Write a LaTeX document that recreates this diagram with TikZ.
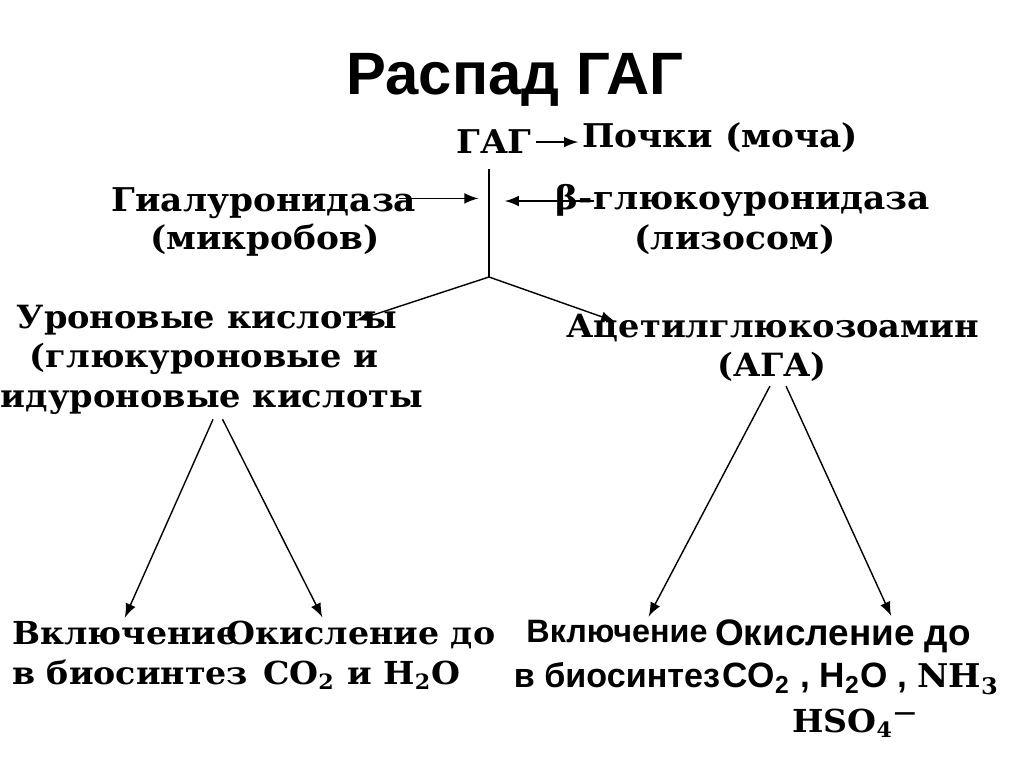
\documentclass[tikz,border=0pt]{standalone}
\usepackage{fontspec}
\setmainfont{DejaVu Serif}[FakeStretch=1.05]
\newfontfamily\arialfont{Liberation Sans}
\tikzset{>=latex}

\begin{document}
\begin{tikzpicture}[x=0.01cm, y=-0.01cm,
    lbl/.style={anchor=base, inner sep=1pt, font=\fontsize{9.3}{11}\selectfont\bfseries},
    lowlbl/.style={anchor=base, inner sep=1pt, font=\fontsize{9}{11}\selectfont\bfseries},
    sanslbl/.style={anchor=base, inner sep=1pt, font=\fontsize{9.2}{11}\selectfont\arialfont\bfseries}]
  \useasboundingbox (0,0) rectangle (1024,768);

  % title
  \node (title) at (515,95) [anchor=base, font=\fontsize{17}{20}\selectfont\arialfont\bfseries] {Распад ГАГ};

  % top of the scheme
  \node (gag) at (494,154) [lbl] {ГАГ};
  \node (kidney) at (720,148) [lbl] {Почки (моча)};
  \node (hyal) at (264,212) [lbl] {Гиалуронидаза};
  \node (hyal2) at (265,250) [lbl] {(микробов)};
  \node (beta) at (743,210) [lbl] {β-глюкоуронидаза};
  \node (beta2) at (735,250) [lbl] {(лизосом)};
  \coordinate (fork) at (489,277);
  \coordinate (hyalarrow) at ([xshift=-6pt,yshift=1.5pt]hyal.east);
  \coordinate (betaarrow) at ([xshift=12pt]beta.west);

  \draw[->] (gag.east) -- (gag.east -| kidney.west);
  \draw[shorten <=3pt] (gag.south -| fork) -- (fork);
  \draw[->, shorten >=3pt] (hyalarrow) -- (hyalarrow -| fork);
  \draw[->, shorten >=4.5pt] (betaarrow) -- (betaarrow -| fork);

  % products
  \node (uron) at (207,329) [lowlbl, font=\fontsize{9.1}{11}\selectfont\bfseries] {Уроновые кислоты};
  \node (uron2) at (204,368) [lowlbl, font=\fontsize{9.1}{11}\selectfont\bfseries] {(глюкуроновые и};
  \node (uron3) at (212,408) [lowlbl, font=\fontsize{9.1}{11}\selectfont\bfseries] {идуроновые кислоты};
  \node (aga) at (773,338) [lowlbl, font=\fontsize{9.1}{11}\selectfont\bfseries] {Ацетилглюкозоамин};
  \node (aga2) at (772,377) [lowlbl, font=\fontsize{9.1}{11}\selectfont\bfseries] {(АГА)};

  \draw[->] (fork) -- ([xshift=-13pt]uron.east);
  \draw[->] (fork) -- ([xshift=15pt,yshift=2pt]aga.west);

  % fate of uronic acids
  \node (incl) at (8,645) [lowlbl, anchor=base west] {Включение};
  \node (incl2) at (8,685) [lowlbl, anchor=base west] {в биосинтез};
  \node (oxid) at (361,645) [lowlbl] {Окисление до};
  \node (oxid2) at (362,685) [lowlbl] {CO\textsubscript{2} и H\textsubscript{2}O};

  \draw[->] ([xshift=0.3pt]uron3.south) -- ([xshift=0pt]incl.north);
  \draw[->] ([xshift=3pt]uron3.south) -- ([xshift=-11pt]oxid.north);

  % fate of AGA
  \node (inclb) at (617,643) [sanslbl] {Включение};
  \node (inclb2) at (617,688) [sanslbl, font=\fontsize{9.7}{11}\selectfont\arialfont\bfseries] {в биосинтез};
  \node (oxidb) at (843,646) [sanslbl, font=\fontsize{10.5}{12}\selectfont\arialfont\bfseries] {Окисление до};
  \node (oxidb2) at (861,688) [sanslbl, font=\fontsize{10}{12}\selectfont\arialfont\bfseries] {CO\textsubscript{2} , H\textsubscript{2}O , {\rmfamily\fontsize{9.3}{12}\selectfont NH\textsubscript{3}}};
  \node (oxidb3) at (855,733) [lowlbl] {HSO\textsubscript{4}\textsuperscript{—}};

  \draw[->] ([xshift=-0.6pt]aga2.south) -- ([xshift=9pt]inclb.north);
  \draw[->] ([xshift=4pt]aga2.south) -- ([xshift=13.7pt]oxidb.north);
\end{tikzpicture}
\end{document}
